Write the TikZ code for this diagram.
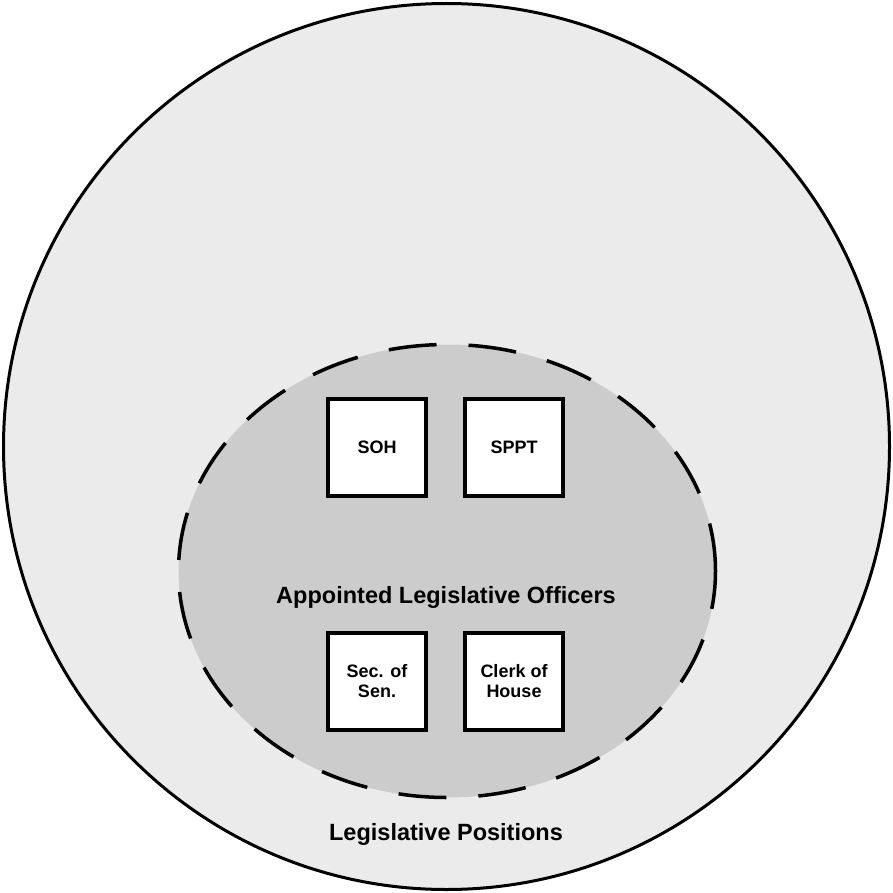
\documentclass[tikz,border=0pt]{standalone}
\usepackage{fontspec}
\setmainfont{Liberation Sans}
\usetikzlibrary{shapes.geometric}
\begin{document}
\begin{tikzpicture}[x=1pt,y=-1pt,
  officer/.style={draw=black,line width=4pt,fill=white,minimum width=98pt,minimum height=97pt,inner sep=0pt,align=center,font=\bfseries\fontsize{18}{20}\selectfont},
  label/.style={font=\bfseries\fontsize{23.5}{26}\selectfont,inner sep=0pt}]
\useasboundingbox (0,0) rectangle (893,893);
\node[circle,draw=black,line width=3pt,fill={rgb,255:red,235;green,235;blue,235},minimum size=886pt,inner sep=0pt] (outer) at (446.5,446.5) {};
\node[ellipse,draw=black,line width=3.5pt,fill={rgb,255:red,204;green,204;blue,204},dash pattern=on 48pt off 32pt,minimum width=537pt,minimum height=453pt,inner sep=0pt] (inner) at (447,571) {};
\node[officer] (soh) at (377,447.5) {SOH};
\node[officer] (sppt) at (514,447.5) {SPPT};
\node[officer] (sec) at (377,681.5) {Sec. of\\Sen.};
\node[officer] (clerk) at (514,681.5) {Clerk of\\House};
\node[label] (alo) at (446,597) {Appointed Legislative Officers};
\node[label] (lp) at (446,834) {Legislative Positions};
\end{tikzpicture}
\end{document}
